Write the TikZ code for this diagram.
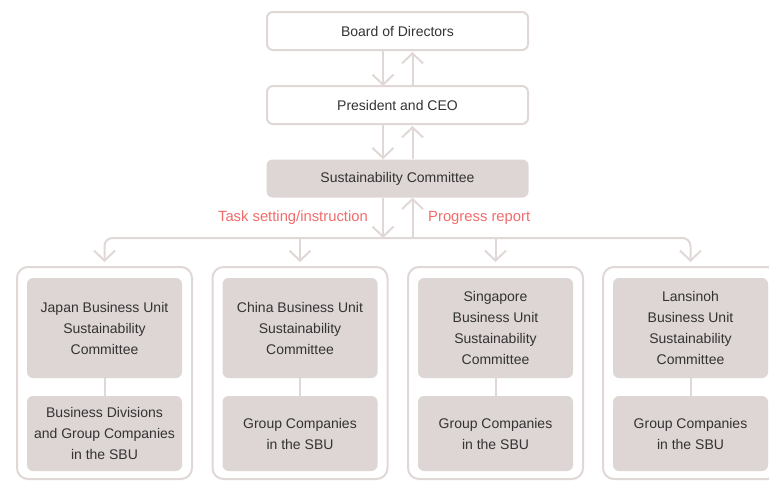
\documentclass[tikz,border=0pt]{standalone}
\usepackage{fontspec}
\setmainfont{Liberation Sans}
\usetikzlibrary{arrows.meta,calc}
\definecolor{edge}{HTML}{E0D8D6}
\definecolor{boxfill}{HTML}{DED6D4}
\definecolor{txt}{HTML}{333333}
\definecolor{redtxt}{HTML}{F26B6B}
\begin{document}
\begin{tikzpicture}[x=1pt,y=-1pt,
  every node/.style={font=\fontsize{14}{21}\selectfont, text=txt, align=center, inner sep=0pt},
  topbox/.style={draw=edge, line width=2pt, fill=white, rounded corners=6pt, minimum width=261pt, minimum height=38pt},
  scbox/.style={fill=boxfill, rounded corners=6pt, minimum width=262pt, minimum height=38pt},
  outerbox/.style={draw=edge, line width=2pt, fill=white, rounded corners=11pt, minimum width=175pt, minimum height=212pt},
  innerbox/.style={fill=boxfill, rounded corners=6pt, minimum width=155pt},
  conn/.style={draw=edge, line width=2pt},
  arr/.style={conn, -{Straight Barb[length=10pt, width=21pt, line width=2pt]}},
  lbl/.style={text=redtxt, font=\fontsize{14.8}{18}\selectfont}
]
\clip (0,0) rectangle (769,482);
\useasboundingbox (0,0) rectangle (769,482);

\node[topbox] (bod) at (397.5,31) {Board of Directors};
\node[topbox] (ceo) at (397.5,105) {President and CEO};
\node[scbox] (sc) at (397.5,178.5) {Sustainability Committee};

\draw[arr] ([xshift=-14.5pt]bod.south) -- ([xshift=-14.5pt,yshift=-1pt]ceo.north);
\draw[arr] ([xshift=15pt]ceo.north) -- ([xshift=15pt,yshift=-1pt]bod.south);
\draw[arr] ([xshift=-14.5pt]ceo.south) -- ([xshift=-14.5pt]sc.north);
\draw[arr] ([xshift=15pt]sc.north) -- ([xshift=15pt,yshift=-1pt]ceo.south);

\coordinate (busdown) at (383,238);
\coordinate (busup) at (412.5,238);
\draw[arr] ([xshift=-14.5pt]sc.south) -- (busdown);
\draw[arr] (busup) -- ([xshift=15pt]sc.south);

\node[lbl, anchor=east] (task) at (368,218) {Task setting/instruction};
\node[lbl, anchor=west] (prog) at (428,218) {Progress report};

% outer boxes
\node[outerbox] (jo) at (104.5,373) {};
\node[outerbox] (co) at (300,373) {};
\node[outerbox] (so) at (495.5,373) {};
\node[outerbox] (lo) at (690.5,373) {};

% bus and drops
\draw[arr, rounded corners=8pt] (busdown) -- (jo.north |- busdown) -- ([yshift=4pt]jo.north);
\draw[arr, rounded corners=8pt] (busdown) -- (lo.north |- busdown) -- ([yshift=4pt]lo.north);
\draw[arr] (co.north |- busdown) -- ([yshift=4pt]co.north);
\draw[arr] (so.north |- busdown) -- ([yshift=4pt]so.north);

% inner boxes
\node[innerbox, minimum height=100pt] (jt) at (104.5,328) {Japan Business Unit\\Sustainability\\Committee};
\node[innerbox, minimum height=75pt] (jb) at (104.5,433.5) {Business Divisions\\and Group Companies\\in the SBU};
\node[innerbox, minimum height=100pt] (ct) at (300,328) {China Business Unit\\Sustainability\\Committee};
\node[innerbox, minimum height=75pt] (cb) at (300,433.5) {Group Companies\\in the SBU};
\node[innerbox, minimum height=100pt] (st) at (495.5,328) {Singapore\\Business Unit\\Sustainability\\Committee};
\node[innerbox, minimum height=75pt] (sb) at (495.5,433.5) {Group Companies\\in the SBU};
\node[innerbox, minimum height=100pt] (lt) at (690.5,328) {Lansinoh\\Business Unit\\Sustainability\\Committee};
\node[innerbox, minimum height=75pt] (lb) at (690.5,433.5) {Group Companies\\in the SBU};

\draw[conn] (jt.south) -- (jb.north);
\draw[conn] (ct.south) -- (cb.north);
\draw[conn] (st.south) -- (sb.north);
\draw[conn] (lt.south) -- (lb.north);
\end{tikzpicture}
\end{document}
